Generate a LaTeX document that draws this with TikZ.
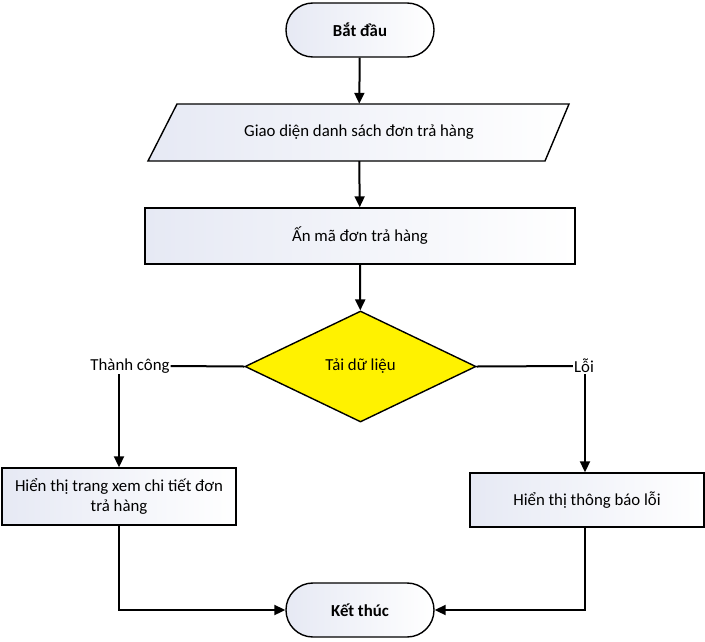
\documentclass[tikz,border=0pt]{standalone}
\usepackage{fontspec}
\setmainfont{Carlito}
\usetikzlibrary{shapes.geometric,arrows.meta,calc}
\definecolor{boxL}{HTML}{E6E9F4}
\tikzset{
  x=1pt,y=-1pt,
  every node/.style={font=\fontsize{16.8}{20}\selectfont},
  soft/.style={left color=boxL,right color=white,draw=black,line width=1.4pt},
  terminal/.style={soft,minimum width=148pt,minimum height=54pt,rounded corners=26.9pt,inner sep=0pt,font=\fontsize{16.8}{20}\selectfont\bfseries},
  procbox/.style={soft,inner sep=0pt,align=center},
  decision/.style={diamond,draw=black,fill=yellow,line width=1.4pt,minimum width=231pt,minimum height=111pt,inner sep=0pt},
  conn/.style={line width=2pt},
  arr/.style={conn,-{Triangle[length=11pt,width=10pt]}},
  lbl/.style={inner sep=1pt}
}
\begin{document}
\begin{tikzpicture}
\useasboundingbox (0,0) rectangle (705,641);
\node[terminal] (start) at (360,30) {Bắt đầu};
% parallelogram
\draw[soft] (177,104) -- (569,104) -- (545,161) -- (148,161) -- cycle;
\node[minimum width=392pt,minimum height=57pt,inner sep=0pt] (gui) at (359,132.5) {Giao diện danh sách đơn trả hàng};
\node[procbox,minimum width=430pt,minimum height=56pt] (click) at (360,236) {Ấn mã đơn trả hàng};
\node[decision] (load) at (360.5,366.5) {Tải dữ liệu};
\node[lbl] (ok) at (130,366) {Thành công};
\node[lbl] (err) at (584,366) {Lỗi};
\node[procbox,minimum width=234pt,minimum height=57pt] (detail) at (119,496.5) {Hiển thị trang xem chi tiết đơn\\trả hàng};
\node[procbox,minimum width=234pt,minimum height=54pt] (msg) at (587,500) {Hiển thị thông báo lỗi};
\node[terminal] (end) at (360,610) {Kết thúc};
\draw[arr] (start) -- (gui);
\draw[arr] (gui) -- (click);
\draw[arr] (click) -- (load);
\draw[conn] (load.west) -- (ok.east);
\draw[conn] (load.east) -- (err.west);
\draw[arr] (ok.south -| detail.north) -- (detail.north);
\draw[arr] (err.south -| 585,0) -- (585,0 |- msg.north);
\draw[arr] (detail.south) |- (end.west);
\draw[arr] (585,0 |- msg.south) |- (end.east);
\end{tikzpicture}
\end{document}
